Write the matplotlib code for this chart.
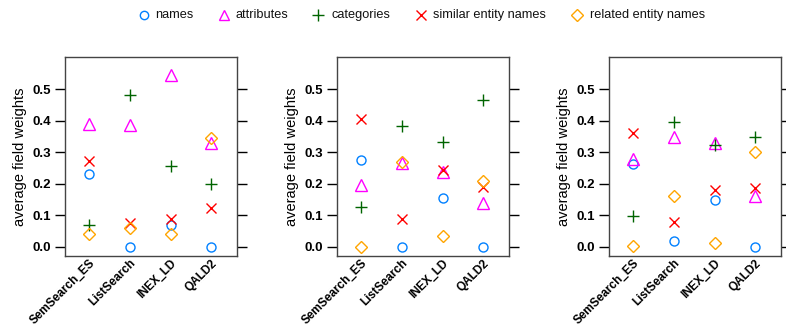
import matplotlib
matplotlib.use("Agg")
import matplotlib.pyplot as plt

plt.rcParams['font.family'] = ['Liberation Sans', 'DejaVu Sans']

collections = ["SemSearch_ES", "ListSearch", "INEX_LD", "QALD2"]
fields = ["names", "attributes", "categories", "similar entity names", "related entity names"]

# panel 1
p1_names = [0.232, 0.0, 0.070, 0.0]
p1_attributes = [0.390, 0.386, 0.545, 0.330]
p1_categories = [0.070, 0.483, 0.256, 0.200]
p1_similar = [0.272, 0.075, 0.090, 0.122]
p1_related = [0.040, 0.060, 0.042, 0.347]

# panel 2
p2_names = [0.275, 0.0, 0.155, 0.0]
p2_attributes = [0.197, 0.265, 0.237, 0.140]
p2_categories = [0.127, 0.385, 0.333, 0.465]
p2_similar = [0.405, 0.087, 0.243, 0.190]
p2_related = [0.0, 0.268, 0.035, 0.208]

# panel 3
p3_names = [0.264, 0.020, 0.149, 0.0]
p3_attributes = [0.278, 0.348, 0.330, 0.162]
p3_categories = [0.098, 0.395, 0.325, 0.350]
p3_similar = [0.363, 0.078, 0.182, 0.188]
p3_related = [0.002, 0.160, 0.012, 0.300]

panels = [
    [p1_names, p1_attributes, p1_categories, p1_similar, p1_related],
    [p2_names, p2_attributes, p2_categories, p2_similar, p2_related],
    [p3_names, p3_attributes, p3_categories, p3_similar, p3_related],
]

colors = ["#0080ff", "#ff00ff", "darkgreen", "#ff0000", "orange"]
markers = ["o", "^", "+", "x", "D"]
msizes = [6.5, 8, 9, 7, 6.5]
yticks = [0.0, 0.1, 0.2, 0.3, 0.4, 0.5]

W, H = 786.0, 328.0
fig = plt.figure(figsize=(W / 100, H / 100), dpi=100)
lefts = [65, 337, 609]
xs = list(range(1, len(collections) + 1))


def style(m, c, ms):
    if m in ("+", "x"):
        return dict(linestyle="none", marker=m, color=c, markersize=ms, markeredgewidth=1.0)
    return dict(linestyle="none", marker=m, markerfacecolor="none",
                markeredgecolor=c, markersize=ms, markeredgewidth=1.0)


for left, series in zip(lefts, panels):
    ax = fig.add_axes([left / W, 1 - 256 / H, 172 / W, (256 - 57) / H])
    for vals, c, m, ms in zip(series, colors, markers, msizes):
        ax.plot(xs, vals, **style(m, c, ms))
    ax.set_xlim(0.41, 4.63)
    ax.set_ylim(-0.029, 0.603)
    ax.set_yticks(yticks)
    ax.set_yticklabels([f"{t:.1f}" for t in yticks], fontweight="bold", fontsize=9.5)
    ax.tick_params(axis="y", which="both", direction="out", length=7, width=1,
                   left=True, right=True, labelleft=True, labelright=False,
                   color="black", pad=3)
    ax.set_xticks(xs)
    ax.set_xticklabels(collections, rotation=45, ha="right", rotation_mode="anchor",
                       fontweight="bold", fontsize=8.5)
    ax.tick_params(axis="x", length=0, pad=1)
    for sp in ax.spines.values():
        sp.set_color("#444444")
        sp.set_linewidth(1.0)
    ax.set_ylabel("average field weights", fontsize=10.5, labelpad=4)

# legend drawn at the top, laid out like the reference key
marker_x = [144, 224, 318, 421, 577]
text_x = [155, 235, 331, 433, 590]
leg_y = 15
lax = fig.add_axes([0, 0, 1, 1], facecolor="none")
lax.set_xlim(0, W)
lax.set_ylim(H, 0)
lax.set_axis_off()
leg_sizes = [6, 7.5, 9, 7, 6]
for f, c, m, ms, mx, tx in zip(fields, colors, markers, leg_sizes, marker_x, text_x):
    lax.plot([mx], [leg_y], **style(m, c, ms))
    lax.text(tx, leg_y, f, fontsize=9.2, va="center", ha="left", color="#111111")

fig.savefig("out.png", dpi=100)
